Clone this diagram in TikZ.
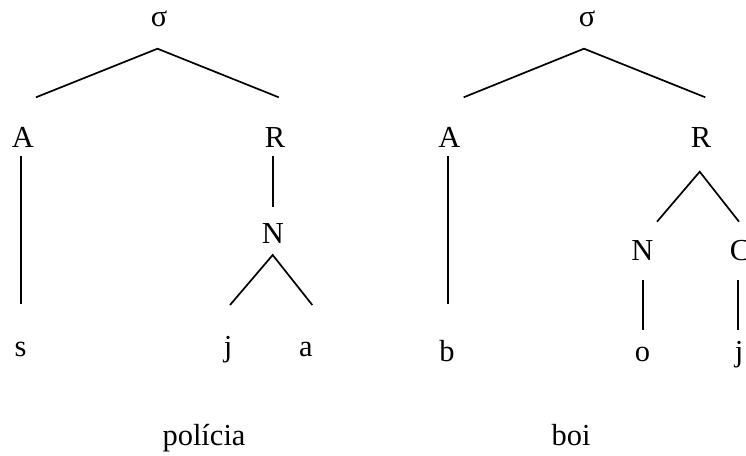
\documentclass[tikz,border=0pt]{standalone}
\usepackage{fontspec}
\setmainfont{Liberation Serif}
\begin{document}
\begin{tikzpicture}[x=1pt,y=-1pt,
  lab/.style={anchor=base,inner sep=0pt,font=\fontsize{30.5}{36}\selectfont},
  edge/.style={line width=1.7pt,line cap=butt}]
\useasboundingbox (0,0) rectangle (746,455);
% left tree: policia
\node[lab] (ls) at (159,26.5) {σ};
\node[lab] (lA) at (23,147.5) {A};
\node[lab] (lR) at (275,147.5) {R};
\node[lab] (lN) at (273,243.5) {N};
\node[lab] (lsx) at (20.5,356) {s};
\node[lab] (lj) at (228,356) {j};
\node[lab] (la) at (306,356) {a};
\node[lab] (lw) at (204,445) {polícia};
\coordinate (lsT) at (157.5,48.7);
\coordinate (lsL) at (36,97.3);
\coordinate (lsR) at (278.7,97.3);
\coordinate (lAb) at (21,156);
\coordinate (lsxT) at (21,304);
\coordinate (lRb) at (273.3,156);
\coordinate (lNt) at (273.3,206.7);
\coordinate (lNb) at (272.7,255);
\coordinate (ljT) at (230,305);
\coordinate (laT) at (312.3,305);
\draw[edge] (lsL) -- (lsT) -- (lsR);
\draw[edge] (lAb) -- (lsxT);
\draw[edge] (lRb) -- (lNt);
\draw[edge] (ljT) -- (lNb) -- (laT);
% right tree: boi
\node[lab] (rs) at (587,26.5) {σ};
\node[lab] (rA) at (449.5,147.5) {A};
\node[lab] (rR) at (701,147.5) {R};
\node[lab] (rN) at (642.5,260.5) {N};
\node[lab] (rC) at (740,260.5) {C};
\node[lab] (rb) at (447,361.5) {b};
\node[lab] (ro) at (642.5,361.5) {o};
\node[lab] (rj) at (739,361.5) {j};
\node[lab] (rw) at (571,445) {boi};
\coordinate (rsT) at (584,48.7);
\coordinate (rsL) at (463.7,97.3);
\coordinate (rsR) at (705.3,97.3);
\coordinate (rAb) at (447.7,156);
\coordinate (rbT) at (447.7,304);
\coordinate (rRb) at (699.7,171.7);
\coordinate (rNt) at (657,221.7);
\coordinate (rCt) at (739,221.7);
\coordinate (rNb) at (642.7,280);
\coordinate (roT) at (642.7,330);
\coordinate (rCb) at (738.3,280);
\coordinate (rjT) at (738.3,330);
\draw[edge] (rsL) -- (rsT) -- (rsR);
\draw[edge] (rAb) -- (rbT);
\draw[edge] (rNt) -- (rRb) -- (rCt);
\draw[edge] (rNb) -- (roT);
\draw[edge] (rCb) -- (rjT);
\end{tikzpicture}
\end{document}
